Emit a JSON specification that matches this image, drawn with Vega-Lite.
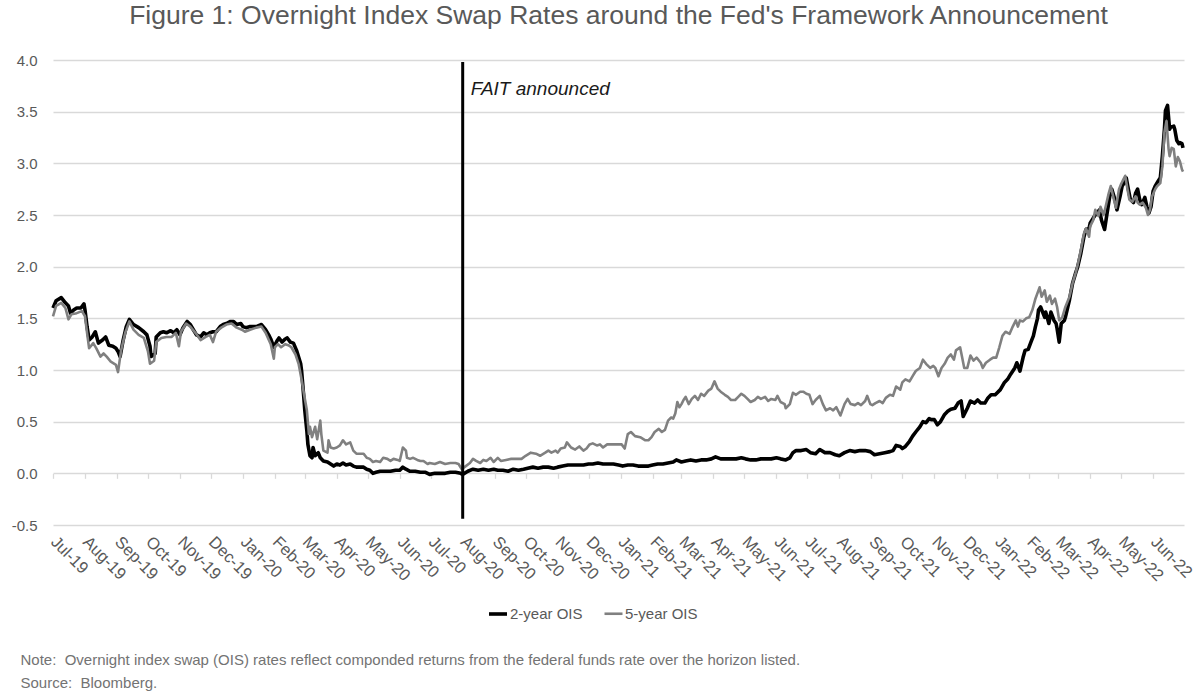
{
  "$schema": "https://vega.github.io/schema/vega-lite/v6.json",
  "width": 1131,
  "height": 465,
  "autosize": {"type": "none"},
  "padding": {"left": 53, "top": 60, "right": 12, "bottom": 166},
  "background": "white",
  "config": {
    "font": "Liberation Sans",
    "view": {"stroke": null},
    "legend": {
      "orient": "none",
      "legendX": 434,
      "legendY": 543,
      "direction": "horizontal",
      "title": null,
      "symbolType": "stroke",
      "symbolSize": 324,
      "labelFontSize": 15,
      "labelColor": "#595959",
      "labelFont": "Liberation Sans",
      "labelOffset": 1,
      "columnPadding": 16
    }
  },
  "title": {
    "text": "Figure 1: Overnight Index Swap Rates around the Fed's Framework Announcement",
    "fontSize": 26.5,
    "fontWeight": "normal",
    "color": "#595959",
    "anchor": "middle",
    "frame": "group",
    "baseline": "alphabetic",
    "offset": 3
  },
  "datasets": {
    "ois": [
      {"date": "2019-07-01", "series": "2-year OIS", "rate": 1.60},
      {"date": "2019-07-04", "series": "2-year OIS", "rate": 1.67},
      {"date": "2019-07-09", "series": "2-year OIS", "rate": 1.70},
      {"date": "2019-07-13", "series": "2-year OIS", "rate": 1.65},
      {"date": "2019-07-16", "series": "2-year OIS", "rate": 1.62},
      {"date": "2019-07-18", "series": "2-year OIS", "rate": 1.55},
      {"date": "2019-07-21", "series": "2-year OIS", "rate": 1.58},
      {"date": "2019-07-24", "series": "2-year OIS", "rate": 1.60},
      {"date": "2019-07-28", "series": "2-year OIS", "rate": 1.60},
      {"date": "2019-07-31", "series": "2-year OIS", "rate": 1.64},
      {"date": "2019-08-01", "series": "2-year OIS", "rate": 1.58},
      {"date": "2019-08-03", "series": "2-year OIS", "rate": 1.42},
      {"date": "2019-08-05", "series": "2-year OIS", "rate": 1.29},
      {"date": "2019-08-08", "series": "2-year OIS", "rate": 1.32},
      {"date": "2019-08-11", "series": "2-year OIS", "rate": 1.37},
      {"date": "2019-08-14", "series": "2-year OIS", "rate": 1.26},
      {"date": "2019-08-18", "series": "2-year OIS", "rate": 1.29},
      {"date": "2019-08-21", "series": "2-year OIS", "rate": 1.32},
      {"date": "2019-08-24", "series": "2-year OIS", "rate": 1.24},
      {"date": "2019-08-28", "series": "2-year OIS", "rate": 1.23},
      {"date": "2019-08-31", "series": "2-year OIS", "rate": 1.21},
      {"date": "2019-09-02", "series": "2-year OIS", "rate": 1.18},
      {"date": "2019-09-04", "series": "2-year OIS", "rate": 1.13},
      {"date": "2019-09-07", "series": "2-year OIS", "rate": 1.29},
      {"date": "2019-09-10", "series": "2-year OIS", "rate": 1.42},
      {"date": "2019-09-13", "series": "2-year OIS", "rate": 1.49},
      {"date": "2019-09-17", "series": "2-year OIS", "rate": 1.44},
      {"date": "2019-09-22", "series": "2-year OIS", "rate": 1.41},
      {"date": "2019-09-27", "series": "2-year OIS", "rate": 1.37},
      {"date": "2019-09-30", "series": "2-year OIS", "rate": 1.34},
      {"date": "2019-10-03", "series": "2-year OIS", "rate": 1.23},
      {"date": "2019-10-04", "series": "2-year OIS", "rate": 1.13},
      {"date": "2019-10-08", "series": "2-year OIS", "rate": 1.16},
      {"date": "2019-10-09", "series": "2-year OIS", "rate": 1.32},
      {"date": "2019-10-13", "series": "2-year OIS", "rate": 1.36},
      {"date": "2019-10-16", "series": "2-year OIS", "rate": 1.37},
      {"date": "2019-10-19", "series": "2-year OIS", "rate": 1.36},
      {"date": "2019-10-23", "series": "2-year OIS", "rate": 1.38},
      {"date": "2019-10-26", "series": "2-year OIS", "rate": 1.36},
      {"date": "2019-10-29", "series": "2-year OIS", "rate": 1.39},
      {"date": "2019-11-01", "series": "2-year OIS", "rate": 1.34},
      {"date": "2019-11-04", "series": "2-year OIS", "rate": 1.41},
      {"date": "2019-11-08", "series": "2-year OIS", "rate": 1.47},
      {"date": "2019-11-11", "series": "2-year OIS", "rate": 1.44},
      {"date": "2019-11-14", "series": "2-year OIS", "rate": 1.39},
      {"date": "2019-11-17", "series": "2-year OIS", "rate": 1.34},
      {"date": "2019-11-21", "series": "2-year OIS", "rate": 1.32},
      {"date": "2019-11-24", "series": "2-year OIS", "rate": 1.36},
      {"date": "2019-11-27", "series": "2-year OIS", "rate": 1.34},
      {"date": "2019-11-30", "series": "2-year OIS", "rate": 1.36},
      {"date": "2019-12-03", "series": "2-year OIS", "rate": 1.37},
      {"date": "2019-12-06", "series": "2-year OIS", "rate": 1.37},
      {"date": "2019-12-10", "series": "2-year OIS", "rate": 1.42},
      {"date": "2019-12-13", "series": "2-year OIS", "rate": 1.44},
      {"date": "2019-12-16", "series": "2-year OIS", "rate": 1.45},
      {"date": "2019-12-20", "series": "2-year OIS", "rate": 1.47},
      {"date": "2019-12-23", "series": "2-year OIS", "rate": 1.47},
      {"date": "2019-12-26", "series": "2-year OIS", "rate": 1.44},
      {"date": "2019-12-30", "series": "2-year OIS", "rate": 1.45},
      {"date": "2020-01-01", "series": "2-year OIS", "rate": 1.42},
      {"date": "2020-01-04", "series": "2-year OIS", "rate": 1.41},
      {"date": "2020-01-08", "series": "2-year OIS", "rate": 1.42},
      {"date": "2020-01-11", "series": "2-year OIS", "rate": 1.42},
      {"date": "2020-01-14", "series": "2-year OIS", "rate": 1.42},
      {"date": "2020-01-19", "series": "2-year OIS", "rate": 1.44},
      {"date": "2020-01-23", "series": "2-year OIS", "rate": 1.39},
      {"date": "2020-01-26", "series": "2-year OIS", "rate": 1.34},
      {"date": "2020-01-28", "series": "2-year OIS", "rate": 1.30},
      {"date": "2020-01-31", "series": "2-year OIS", "rate": 1.22},
      {"date": "2020-02-03", "series": "2-year OIS", "rate": 1.28},
      {"date": "2020-02-05", "series": "2-year OIS", "rate": 1.31},
      {"date": "2020-02-08", "series": "2-year OIS", "rate": 1.27},
      {"date": "2020-02-11", "series": "2-year OIS", "rate": 1.30},
      {"date": "2020-02-13", "series": "2-year OIS", "rate": 1.31},
      {"date": "2020-02-16", "series": "2-year OIS", "rate": 1.27},
      {"date": "2020-02-19", "series": "2-year OIS", "rate": 1.26},
      {"date": "2020-02-22", "series": "2-year OIS", "rate": 1.19},
      {"date": "2020-02-26", "series": "2-year OIS", "rate": 1.06},
      {"date": "2020-02-27", "series": "2-year OIS", "rate": 0.98},
      {"date": "2020-02-29", "series": "2-year OIS", "rate": 0.74},
      {"date": "2020-03-01", "series": "2-year OIS", "rate": 0.61},
      {"date": "2020-03-03", "series": "2-year OIS", "rate": 0.41},
      {"date": "2020-03-04", "series": "2-year OIS", "rate": 0.28},
      {"date": "2020-03-06", "series": "2-year OIS", "rate": 0.17},
      {"date": "2020-03-08", "series": "2-year OIS", "rate": 0.15},
      {"date": "2020-03-09", "series": "2-year OIS", "rate": 0.25},
      {"date": "2020-03-11", "series": "2-year OIS", "rate": 0.17},
      {"date": "2020-03-14", "series": "2-year OIS", "rate": 0.20},
      {"date": "2020-03-16", "series": "2-year OIS", "rate": 0.15},
      {"date": "2020-03-19", "series": "2-year OIS", "rate": 0.12},
      {"date": "2020-03-23", "series": "2-year OIS", "rate": 0.11},
      {"date": "2020-03-26", "series": "2-year OIS", "rate": 0.09},
      {"date": "2020-03-29", "series": "2-year OIS", "rate": 0.07},
      {"date": "2020-04-01", "series": "2-year OIS", "rate": 0.09},
      {"date": "2020-04-04", "series": "2-year OIS", "rate": 0.08},
      {"date": "2020-04-07", "series": "2-year OIS", "rate": 0.10},
      {"date": "2020-04-10", "series": "2-year OIS", "rate": 0.08},
      {"date": "2020-04-14", "series": "2-year OIS", "rate": 0.09},
      {"date": "2020-04-17", "series": "2-year OIS", "rate": 0.07},
      {"date": "2020-04-20", "series": "2-year OIS", "rate": 0.06},
      {"date": "2020-04-24", "series": "2-year OIS", "rate": 0.06},
      {"date": "2020-04-27", "series": "2-year OIS", "rate": 0.06},
      {"date": "2020-04-30", "series": "2-year OIS", "rate": 0.04},
      {"date": "2020-05-03", "series": "2-year OIS", "rate": 0.03},
      {"date": "2020-05-06", "series": "2-year OIS", "rate": 0.00},
      {"date": "2020-05-09", "series": "2-year OIS", "rate": 0.01},
      {"date": "2020-05-13", "series": "2-year OIS", "rate": 0.02},
      {"date": "2020-05-18", "series": "2-year OIS", "rate": 0.02},
      {"date": "2020-05-23", "series": "2-year OIS", "rate": 0.02},
      {"date": "2020-05-28", "series": "2-year OIS", "rate": 0.03},
      {"date": "2020-06-01", "series": "2-year OIS", "rate": 0.03},
      {"date": "2020-06-04", "series": "2-year OIS", "rate": 0.06},
      {"date": "2020-06-07", "series": "2-year OIS", "rate": 0.04},
      {"date": "2020-06-11", "series": "2-year OIS", "rate": 0.02},
      {"date": "2020-06-16", "series": "2-year OIS", "rate": 0.02},
      {"date": "2020-06-21", "series": "2-year OIS", "rate": 0.01},
      {"date": "2020-06-26", "series": "2-year OIS", "rate": 0.01},
      {"date": "2020-06-30", "series": "2-year OIS", "rate": -0.01},
      {"date": "2020-07-05", "series": "2-year OIS", "rate": 0.00},
      {"date": "2020-07-10", "series": "2-year OIS", "rate": 0.00},
      {"date": "2020-07-15", "series": "2-year OIS", "rate": 0.00},
      {"date": "2020-07-20", "series": "2-year OIS", "rate": 0.01},
      {"date": "2020-07-25", "series": "2-year OIS", "rate": 0.01},
      {"date": "2020-07-30", "series": "2-year OIS", "rate": 0.00},
      {"date": "2020-08-01", "series": "2-year OIS", "rate": -0.01},
      {"date": "2020-08-06", "series": "2-year OIS", "rate": 0.02},
      {"date": "2020-08-11", "series": "2-year OIS", "rate": 0.04},
      {"date": "2020-08-16", "series": "2-year OIS", "rate": 0.03},
      {"date": "2020-08-21", "series": "2-year OIS", "rate": 0.04},
      {"date": "2020-08-26", "series": "2-year OIS", "rate": 0.03},
      {"date": "2020-08-31", "series": "2-year OIS", "rate": 0.04},
      {"date": "2020-09-04", "series": "2-year OIS", "rate": 0.03},
      {"date": "2020-09-09", "series": "2-year OIS", "rate": 0.03},
      {"date": "2020-09-14", "series": "2-year OIS", "rate": 0.02},
      {"date": "2020-09-19", "series": "2-year OIS", "rate": 0.04},
      {"date": "2020-09-24", "series": "2-year OIS", "rate": 0.03},
      {"date": "2020-09-29", "series": "2-year OIS", "rate": 0.04},
      {"date": "2020-10-03", "series": "2-year OIS", "rate": 0.05},
      {"date": "2020-10-08", "series": "2-year OIS", "rate": 0.06},
      {"date": "2020-10-13", "series": "2-year OIS", "rate": 0.05},
      {"date": "2020-10-18", "series": "2-year OIS", "rate": 0.06},
      {"date": "2020-10-23", "series": "2-year OIS", "rate": 0.06},
      {"date": "2020-10-28", "series": "2-year OIS", "rate": 0.05},
      {"date": "2020-11-01", "series": "2-year OIS", "rate": 0.06},
      {"date": "2020-11-06", "series": "2-year OIS", "rate": 0.07},
      {"date": "2020-11-11", "series": "2-year OIS", "rate": 0.08},
      {"date": "2020-11-16", "series": "2-year OIS", "rate": 0.08},
      {"date": "2020-11-21", "series": "2-year OIS", "rate": 0.08},
      {"date": "2020-11-26", "series": "2-year OIS", "rate": 0.08},
      {"date": "2020-12-01", "series": "2-year OIS", "rate": 0.09},
      {"date": "2020-12-05", "series": "2-year OIS", "rate": 0.09},
      {"date": "2020-12-10", "series": "2-year OIS", "rate": 0.10},
      {"date": "2020-12-15", "series": "2-year OIS", "rate": 0.09},
      {"date": "2020-12-20", "series": "2-year OIS", "rate": 0.09},
      {"date": "2020-12-25", "series": "2-year OIS", "rate": 0.09},
      {"date": "2020-12-30", "series": "2-year OIS", "rate": 0.08},
      {"date": "2021-01-03", "series": "2-year OIS", "rate": 0.07},
      {"date": "2021-01-08", "series": "2-year OIS", "rate": 0.08},
      {"date": "2021-01-13", "series": "2-year OIS", "rate": 0.08},
      {"date": "2021-01-18", "series": "2-year OIS", "rate": 0.07},
      {"date": "2021-01-23", "series": "2-year OIS", "rate": 0.07},
      {"date": "2021-01-28", "series": "2-year OIS", "rate": 0.07},
      {"date": "2021-02-01", "series": "2-year OIS", "rate": 0.08},
      {"date": "2021-02-06", "series": "2-year OIS", "rate": 0.09},
      {"date": "2021-02-11", "series": "2-year OIS", "rate": 0.09},
      {"date": "2021-02-16", "series": "2-year OIS", "rate": 0.10},
      {"date": "2021-02-21", "series": "2-year OIS", "rate": 0.11},
      {"date": "2021-02-24", "series": "2-year OIS", "rate": 0.13},
      {"date": "2021-03-01", "series": "2-year OIS", "rate": 0.11},
      {"date": "2021-03-05", "series": "2-year OIS", "rate": 0.12},
      {"date": "2021-03-10", "series": "2-year OIS", "rate": 0.13},
      {"date": "2021-03-15", "series": "2-year OIS", "rate": 0.12},
      {"date": "2021-03-20", "series": "2-year OIS", "rate": 0.13},
      {"date": "2021-03-25", "series": "2-year OIS", "rate": 0.13},
      {"date": "2021-03-30", "series": "2-year OIS", "rate": 0.14},
      {"date": "2021-04-03", "series": "2-year OIS", "rate": 0.16},
      {"date": "2021-04-08", "series": "2-year OIS", "rate": 0.14},
      {"date": "2021-04-13", "series": "2-year OIS", "rate": 0.14},
      {"date": "2021-04-18", "series": "2-year OIS", "rate": 0.14},
      {"date": "2021-04-23", "series": "2-year OIS", "rate": 0.14},
      {"date": "2021-04-28", "series": "2-year OIS", "rate": 0.15},
      {"date": "2021-05-02", "series": "2-year OIS", "rate": 0.14},
      {"date": "2021-05-07", "series": "2-year OIS", "rate": 0.13},
      {"date": "2021-05-12", "series": "2-year OIS", "rate": 0.13},
      {"date": "2021-05-17", "series": "2-year OIS", "rate": 0.14},
      {"date": "2021-05-22", "series": "2-year OIS", "rate": 0.14},
      {"date": "2021-05-27", "series": "2-year OIS", "rate": 0.14},
      {"date": "2021-06-01", "series": "2-year OIS", "rate": 0.15},
      {"date": "2021-06-05", "series": "2-year OIS", "rate": 0.14},
      {"date": "2021-06-10", "series": "2-year OIS", "rate": 0.13},
      {"date": "2021-06-14", "series": "2-year OIS", "rate": 0.15},
      {"date": "2021-06-17", "series": "2-year OIS", "rate": 0.20},
      {"date": "2021-06-20", "series": "2-year OIS", "rate": 0.22},
      {"date": "2021-06-25", "series": "2-year OIS", "rate": 0.22},
      {"date": "2021-06-30", "series": "2-year OIS", "rate": 0.23},
      {"date": "2021-07-04", "series": "2-year OIS", "rate": 0.20},
      {"date": "2021-07-09", "series": "2-year OIS", "rate": 0.19},
      {"date": "2021-07-13", "series": "2-year OIS", "rate": 0.23},
      {"date": "2021-07-18", "series": "2-year OIS", "rate": 0.20},
      {"date": "2021-07-23", "series": "2-year OIS", "rate": 0.20},
      {"date": "2021-07-28", "series": "2-year OIS", "rate": 0.18},
      {"date": "2021-08-01", "series": "2-year OIS", "rate": 0.17},
      {"date": "2021-08-06", "series": "2-year OIS", "rate": 0.20},
      {"date": "2021-08-11", "series": "2-year OIS", "rate": 0.22},
      {"date": "2021-08-16", "series": "2-year OIS", "rate": 0.21},
      {"date": "2021-08-21", "series": "2-year OIS", "rate": 0.22},
      {"date": "2021-08-26", "series": "2-year OIS", "rate": 0.22},
      {"date": "2021-08-31", "series": "2-year OIS", "rate": 0.21},
      {"date": "2021-09-04", "series": "2-year OIS", "rate": 0.18},
      {"date": "2021-09-09", "series": "2-year OIS", "rate": 0.19},
      {"date": "2021-09-14", "series": "2-year OIS", "rate": 0.20},
      {"date": "2021-09-19", "series": "2-year OIS", "rate": 0.21},
      {"date": "2021-09-22", "series": "2-year OIS", "rate": 0.22},
      {"date": "2021-09-25", "series": "2-year OIS", "rate": 0.27},
      {"date": "2021-09-29", "series": "2-year OIS", "rate": 0.26},
      {"date": "2021-10-01", "series": "2-year OIS", "rate": 0.24},
      {"date": "2021-10-04", "series": "2-year OIS", "rate": 0.26},
      {"date": "2021-10-08", "series": "2-year OIS", "rate": 0.31},
      {"date": "2021-10-11", "series": "2-year OIS", "rate": 0.36},
      {"date": "2021-10-14", "series": "2-year OIS", "rate": 0.40},
      {"date": "2021-10-18", "series": "2-year OIS", "rate": 0.45},
      {"date": "2021-10-21", "series": "2-year OIS", "rate": 0.50},
      {"date": "2021-10-24", "series": "2-year OIS", "rate": 0.49},
      {"date": "2021-10-27", "series": "2-year OIS", "rate": 0.53},
      {"date": "2021-10-29", "series": "2-year OIS", "rate": 0.52},
      {"date": "2021-11-01", "series": "2-year OIS", "rate": 0.52},
      {"date": "2021-11-04", "series": "2-year OIS", "rate": 0.47},
      {"date": "2021-11-07", "series": "2-year OIS", "rate": 0.50},
      {"date": "2021-11-11", "series": "2-year OIS", "rate": 0.57},
      {"date": "2021-11-14", "series": "2-year OIS", "rate": 0.60},
      {"date": "2021-11-17", "series": "2-year OIS", "rate": 0.62},
      {"date": "2021-11-21", "series": "2-year OIS", "rate": 0.63},
      {"date": "2021-11-24", "series": "2-year OIS", "rate": 0.68},
      {"date": "2021-11-27", "series": "2-year OIS", "rate": 0.70},
      {"date": "2021-11-29", "series": "2-year OIS", "rate": 0.55},
      {"date": "2021-12-03", "series": "2-year OIS", "rate": 0.63},
      {"date": "2021-12-06", "series": "2-year OIS", "rate": 0.70},
      {"date": "2021-12-10", "series": "2-year OIS", "rate": 0.68},
      {"date": "2021-12-13", "series": "2-year OIS", "rate": 0.71},
      {"date": "2021-12-16", "series": "2-year OIS", "rate": 0.68},
      {"date": "2021-12-20", "series": "2-year OIS", "rate": 0.68},
      {"date": "2021-12-23", "series": "2-year OIS", "rate": 0.73},
      {"date": "2021-12-26", "series": "2-year OIS", "rate": 0.76},
      {"date": "2021-12-30", "series": "2-year OIS", "rate": 0.76},
      {"date": "2022-01-01", "series": "2-year OIS", "rate": 0.78},
      {"date": "2022-01-04", "series": "2-year OIS", "rate": 0.81},
      {"date": "2022-01-08", "series": "2-year OIS", "rate": 0.88},
      {"date": "2022-01-11", "series": "2-year OIS", "rate": 0.91},
      {"date": "2022-01-14", "series": "2-year OIS", "rate": 0.96},
      {"date": "2022-01-18", "series": "2-year OIS", "rate": 1.02},
      {"date": "2022-01-20", "series": "2-year OIS", "rate": 1.07},
      {"date": "2022-01-23", "series": "2-year OIS", "rate": 0.99},
      {"date": "2022-01-26", "series": "2-year OIS", "rate": 1.12},
      {"date": "2022-01-28", "series": "2-year OIS", "rate": 1.19},
      {"date": "2022-01-31", "series": "2-year OIS", "rate": 1.20},
      {"date": "2022-02-03", "series": "2-year OIS", "rate": 1.28},
      {"date": "2022-02-05", "series": "2-year OIS", "rate": 1.33},
      {"date": "2022-02-07", "series": "2-year OIS", "rate": 1.42},
      {"date": "2022-02-09", "series": "2-year OIS", "rate": 1.50},
      {"date": "2022-02-10", "series": "2-year OIS", "rate": 1.58},
      {"date": "2022-02-12", "series": "2-year OIS", "rate": 1.61},
      {"date": "2022-02-16", "series": "2-year OIS", "rate": 1.51},
      {"date": "2022-02-17", "series": "2-year OIS", "rate": 1.56},
      {"date": "2022-02-20", "series": "2-year OIS", "rate": 1.45},
      {"date": "2022-02-22", "series": "2-year OIS", "rate": 1.56},
      {"date": "2022-02-25", "series": "2-year OIS", "rate": 1.48},
      {"date": "2022-02-27", "series": "2-year OIS", "rate": 1.45},
      {"date": "2022-02-28", "series": "2-year OIS", "rate": 1.40},
      {"date": "2022-03-02", "series": "2-year OIS", "rate": 1.27},
      {"date": "2022-03-04", "series": "2-year OIS", "rate": 1.45},
      {"date": "2022-03-07", "series": "2-year OIS", "rate": 1.48},
      {"date": "2022-03-08", "series": "2-year OIS", "rate": 1.51},
      {"date": "2022-03-12", "series": "2-year OIS", "rate": 1.68},
      {"date": "2022-03-15", "series": "2-year OIS", "rate": 1.84},
      {"date": "2022-03-18", "series": "2-year OIS", "rate": 1.94},
      {"date": "2022-03-20", "series": "2-year OIS", "rate": 2.00},
      {"date": "2022-03-23", "series": "2-year OIS", "rate": 2.13},
      {"date": "2022-03-26", "series": "2-year OIS", "rate": 2.29},
      {"date": "2022-03-28", "series": "2-year OIS", "rate": 2.36},
      {"date": "2022-03-31", "series": "2-year OIS", "rate": 2.37},
      {"date": "2022-04-01", "series": "2-year OIS", "rate": 2.42},
      {"date": "2022-04-04", "series": "2-year OIS", "rate": 2.47},
      {"date": "2022-04-06", "series": "2-year OIS", "rate": 2.50},
      {"date": "2022-04-10", "series": "2-year OIS", "rate": 2.55},
      {"date": "2022-04-12", "series": "2-year OIS", "rate": 2.45},
      {"date": "2022-04-15", "series": "2-year OIS", "rate": 2.36},
      {"date": "2022-04-17", "series": "2-year OIS", "rate": 2.49},
      {"date": "2022-04-20", "series": "2-year OIS", "rate": 2.68},
      {"date": "2022-04-22", "series": "2-year OIS", "rate": 2.75},
      {"date": "2022-04-25", "series": "2-year OIS", "rate": 2.65},
      {"date": "2022-04-27", "series": "2-year OIS", "rate": 2.55},
      {"date": "2022-04-30", "series": "2-year OIS", "rate": 2.68},
      {"date": "2022-05-02", "series": "2-year OIS", "rate": 2.78},
      {"date": "2022-05-04", "series": "2-year OIS", "rate": 2.81},
      {"date": "2022-05-06", "series": "2-year OIS", "rate": 2.86},
      {"date": "2022-05-08", "series": "2-year OIS", "rate": 2.75},
      {"date": "2022-05-10", "series": "2-year OIS", "rate": 2.65},
      {"date": "2022-05-13", "series": "2-year OIS", "rate": 2.62},
      {"date": "2022-05-15", "series": "2-year OIS", "rate": 2.71},
      {"date": "2022-05-17", "series": "2-year OIS", "rate": 2.75},
      {"date": "2022-05-19", "series": "2-year OIS", "rate": 2.65},
      {"date": "2022-05-21", "series": "2-year OIS", "rate": 2.60},
      {"date": "2022-05-24", "series": "2-year OIS", "rate": 2.67},
      {"date": "2022-05-26", "series": "2-year OIS", "rate": 2.58},
      {"date": "2022-05-28", "series": "2-year OIS", "rate": 2.52},
      {"date": "2022-05-30", "series": "2-year OIS", "rate": 2.58},
      {"date": "2022-06-01", "series": "2-year OIS", "rate": 2.73},
      {"date": "2022-06-03", "series": "2-year OIS", "rate": 2.78},
      {"date": "2022-06-06", "series": "2-year OIS", "rate": 2.83},
      {"date": "2022-06-08", "series": "2-year OIS", "rate": 2.86},
      {"date": "2022-06-10", "series": "2-year OIS", "rate": 3.07},
      {"date": "2022-06-12", "series": "2-year OIS", "rate": 3.33},
      {"date": "2022-06-13", "series": "2-year OIS", "rate": 3.51},
      {"date": "2022-06-15", "series": "2-year OIS", "rate": 3.56},
      {"date": "2022-06-17", "series": "2-year OIS", "rate": 3.33},
      {"date": "2022-06-18", "series": "2-year OIS", "rate": 3.35},
      {"date": "2022-06-21", "series": "2-year OIS", "rate": 3.36},
      {"date": "2022-06-22", "series": "2-year OIS", "rate": 3.33},
      {"date": "2022-06-24", "series": "2-year OIS", "rate": 3.22},
      {"date": "2022-06-26", "series": "2-year OIS", "rate": 3.19},
      {"date": "2022-06-27", "series": "2-year OIS", "rate": 3.20},
      {"date": "2022-06-29", "series": "2-year OIS", "rate": 3.19},
      {"date": "2022-06-30", "series": "2-year OIS", "rate": 3.15},
      {"date": "2019-07-01", "series": "5-year OIS", "rate": 1.52},
      {"date": "2019-07-04", "series": "5-year OIS", "rate": 1.62},
      {"date": "2019-07-09", "series": "5-year OIS", "rate": 1.65},
      {"date": "2019-07-13", "series": "5-year OIS", "rate": 1.60},
      {"date": "2019-07-16", "series": "5-year OIS", "rate": 1.49},
      {"date": "2019-07-19", "series": "5-year OIS", "rate": 1.54},
      {"date": "2019-07-24", "series": "5-year OIS", "rate": 1.55},
      {"date": "2019-07-29", "series": "5-year OIS", "rate": 1.57},
      {"date": "2019-08-01", "series": "5-year OIS", "rate": 1.52},
      {"date": "2019-08-03", "series": "5-year OIS", "rate": 1.36},
      {"date": "2019-08-05", "series": "5-year OIS", "rate": 1.21},
      {"date": "2019-08-09", "series": "5-year OIS", "rate": 1.26},
      {"date": "2019-08-12", "series": "5-year OIS", "rate": 1.21},
      {"date": "2019-08-16", "series": "5-year OIS", "rate": 1.13},
      {"date": "2019-08-19", "series": "5-year OIS", "rate": 1.16},
      {"date": "2019-08-22", "series": "5-year OIS", "rate": 1.13},
      {"date": "2019-08-26", "series": "5-year OIS", "rate": 1.08},
      {"date": "2019-08-31", "series": "5-year OIS", "rate": 1.05},
      {"date": "2019-09-02", "series": "5-year OIS", "rate": 0.98},
      {"date": "2019-09-05", "series": "5-year OIS", "rate": 1.19},
      {"date": "2019-09-09", "series": "5-year OIS", "rate": 1.36},
      {"date": "2019-09-13", "series": "5-year OIS", "rate": 1.47},
      {"date": "2019-09-17", "series": "5-year OIS", "rate": 1.39},
      {"date": "2019-09-22", "series": "5-year OIS", "rate": 1.34},
      {"date": "2019-09-27", "series": "5-year OIS", "rate": 1.31},
      {"date": "2019-10-01", "series": "5-year OIS", "rate": 1.18},
      {"date": "2019-10-03", "series": "5-year OIS", "rate": 1.06},
      {"date": "2019-10-07", "series": "5-year OIS", "rate": 1.09},
      {"date": "2019-10-09", "series": "5-year OIS", "rate": 1.27},
      {"date": "2019-10-14", "series": "5-year OIS", "rate": 1.31},
      {"date": "2019-10-19", "series": "5-year OIS", "rate": 1.32},
      {"date": "2019-10-24", "series": "5-year OIS", "rate": 1.32},
      {"date": "2019-10-28", "series": "5-year OIS", "rate": 1.36},
      {"date": "2019-10-31", "series": "5-year OIS", "rate": 1.23},
      {"date": "2019-11-02", "series": "5-year OIS", "rate": 1.37},
      {"date": "2019-11-07", "series": "5-year OIS", "rate": 1.45},
      {"date": "2019-11-11", "series": "5-year OIS", "rate": 1.42},
      {"date": "2019-11-16", "series": "5-year OIS", "rate": 1.36},
      {"date": "2019-11-21", "series": "5-year OIS", "rate": 1.29},
      {"date": "2019-11-26", "series": "5-year OIS", "rate": 1.32},
      {"date": "2019-11-30", "series": "5-year OIS", "rate": 1.34},
      {"date": "2019-12-03", "series": "5-year OIS", "rate": 1.27},
      {"date": "2019-12-06", "series": "5-year OIS", "rate": 1.37},
      {"date": "2019-12-11", "series": "5-year OIS", "rate": 1.41},
      {"date": "2019-12-16", "series": "5-year OIS", "rate": 1.44},
      {"date": "2019-12-21", "series": "5-year OIS", "rate": 1.45},
      {"date": "2019-12-26", "series": "5-year OIS", "rate": 1.41},
      {"date": "2019-12-31", "series": "5-year OIS", "rate": 1.39},
      {"date": "2020-01-03", "series": "5-year OIS", "rate": 1.37},
      {"date": "2020-01-08", "series": "5-year OIS", "rate": 1.39},
      {"date": "2020-01-14", "series": "5-year OIS", "rate": 1.41},
      {"date": "2020-01-19", "series": "5-year OIS", "rate": 1.42},
      {"date": "2020-01-23", "series": "5-year OIS", "rate": 1.36},
      {"date": "2020-01-28", "series": "5-year OIS", "rate": 1.25},
      {"date": "2020-01-31", "series": "5-year OIS", "rate": 1.11},
      {"date": "2020-02-01", "series": "5-year OIS", "rate": 1.22},
      {"date": "2020-02-04", "series": "5-year OIS", "rate": 1.25},
      {"date": "2020-02-07", "series": "5-year OIS", "rate": 1.22},
      {"date": "2020-02-11", "series": "5-year OIS", "rate": 1.25},
      {"date": "2020-02-14", "series": "5-year OIS", "rate": 1.24},
      {"date": "2020-02-17", "series": "5-year OIS", "rate": 1.22},
      {"date": "2020-02-21", "series": "5-year OIS", "rate": 1.15},
      {"date": "2020-02-24", "series": "5-year OIS", "rate": 1.06},
      {"date": "2020-02-27", "series": "5-year OIS", "rate": 0.90},
      {"date": "2020-02-29", "series": "5-year OIS", "rate": 0.78},
      {"date": "2020-03-03", "series": "5-year OIS", "rate": 0.61},
      {"date": "2020-03-05", "series": "5-year OIS", "rate": 0.38},
      {"date": "2020-03-06", "series": "5-year OIS", "rate": 0.45},
      {"date": "2020-03-08", "series": "5-year OIS", "rate": 0.35},
      {"date": "2020-03-11", "series": "5-year OIS", "rate": 0.45},
      {"date": "2020-03-13", "series": "5-year OIS", "rate": 0.33},
      {"date": "2020-03-16", "series": "5-year OIS", "rate": 0.51},
      {"date": "2020-03-17", "series": "5-year OIS", "rate": 0.38},
      {"date": "2020-03-19", "series": "5-year OIS", "rate": 0.22},
      {"date": "2020-03-23", "series": "5-year OIS", "rate": 0.20},
      {"date": "2020-03-24", "series": "5-year OIS", "rate": 0.32},
      {"date": "2020-03-26", "series": "5-year OIS", "rate": 0.25},
      {"date": "2020-03-29", "series": "5-year OIS", "rate": 0.24},
      {"date": "2020-04-01", "series": "5-year OIS", "rate": 0.25},
      {"date": "2020-04-04", "series": "5-year OIS", "rate": 0.27},
      {"date": "2020-04-07", "series": "5-year OIS", "rate": 0.32},
      {"date": "2020-04-10", "series": "5-year OIS", "rate": 0.28},
      {"date": "2020-04-14", "series": "5-year OIS", "rate": 0.30},
      {"date": "2020-04-17", "series": "5-year OIS", "rate": 0.22},
      {"date": "2020-04-20", "series": "5-year OIS", "rate": 0.19},
      {"date": "2020-04-24", "series": "5-year OIS", "rate": 0.19},
      {"date": "2020-04-27", "series": "5-year OIS", "rate": 0.19},
      {"date": "2020-04-30", "series": "5-year OIS", "rate": 0.15},
      {"date": "2020-05-03", "series": "5-year OIS", "rate": 0.14},
      {"date": "2020-05-06", "series": "5-year OIS", "rate": 0.11},
      {"date": "2020-05-09", "series": "5-year OIS", "rate": 0.12},
      {"date": "2020-05-13", "series": "5-year OIS", "rate": 0.11},
      {"date": "2020-05-16", "series": "5-year OIS", "rate": 0.15},
      {"date": "2020-05-20", "series": "5-year OIS", "rate": 0.14},
      {"date": "2020-05-23", "series": "5-year OIS", "rate": 0.12},
      {"date": "2020-05-26", "series": "5-year OIS", "rate": 0.14},
      {"date": "2020-05-30", "series": "5-year OIS", "rate": 0.13},
      {"date": "2020-06-01", "series": "5-year OIS", "rate": 0.12},
      {"date": "2020-06-04", "series": "5-year OIS", "rate": 0.25},
      {"date": "2020-06-07", "series": "5-year OIS", "rate": 0.22},
      {"date": "2020-06-08", "series": "5-year OIS", "rate": 0.15},
      {"date": "2020-06-11", "series": "5-year OIS", "rate": 0.14},
      {"date": "2020-06-14", "series": "5-year OIS", "rate": 0.15},
      {"date": "2020-06-18", "series": "5-year OIS", "rate": 0.13},
      {"date": "2020-06-21", "series": "5-year OIS", "rate": 0.12},
      {"date": "2020-06-24", "series": "5-year OIS", "rate": 0.12},
      {"date": "2020-06-28", "series": "5-year OIS", "rate": 0.09},
      {"date": "2020-06-30", "series": "5-year OIS", "rate": 0.10},
      {"date": "2020-07-05", "series": "5-year OIS", "rate": 0.09},
      {"date": "2020-07-10", "series": "5-year OIS", "rate": 0.11},
      {"date": "2020-07-15", "series": "5-year OIS", "rate": 0.09},
      {"date": "2020-07-20", "series": "5-year OIS", "rate": 0.10},
      {"date": "2020-07-25", "series": "5-year OIS", "rate": 0.10},
      {"date": "2020-07-28", "series": "5-year OIS", "rate": 0.09},
      {"date": "2020-07-31", "series": "5-year OIS", "rate": 0.04},
      {"date": "2020-08-04", "series": "5-year OIS", "rate": 0.07},
      {"date": "2020-08-08", "series": "5-year OIS", "rate": 0.10},
      {"date": "2020-08-11", "series": "5-year OIS", "rate": 0.14},
      {"date": "2020-08-14", "series": "5-year OIS", "rate": 0.12},
      {"date": "2020-08-18", "series": "5-year OIS", "rate": 0.10},
      {"date": "2020-08-21", "series": "5-year OIS", "rate": 0.13},
      {"date": "2020-08-24", "series": "5-year OIS", "rate": 0.12},
      {"date": "2020-08-28", "series": "5-year OIS", "rate": 0.15},
      {"date": "2020-08-31", "series": "5-year OIS", "rate": 0.11},
      {"date": "2020-09-04", "series": "5-year OIS", "rate": 0.15},
      {"date": "2020-09-07", "series": "5-year OIS", "rate": 0.12},
      {"date": "2020-09-12", "series": "5-year OIS", "rate": 0.13},
      {"date": "2020-09-17", "series": "5-year OIS", "rate": 0.14},
      {"date": "2020-09-22", "series": "5-year OIS", "rate": 0.14},
      {"date": "2020-09-27", "series": "5-year OIS", "rate": 0.14},
      {"date": "2020-10-01", "series": "5-year OIS", "rate": 0.17},
      {"date": "2020-10-06", "series": "5-year OIS", "rate": 0.20},
      {"date": "2020-10-11", "series": "5-year OIS", "rate": 0.19},
      {"date": "2020-10-15", "series": "5-year OIS", "rate": 0.17},
      {"date": "2020-10-20", "series": "5-year OIS", "rate": 0.20},
      {"date": "2020-10-23", "series": "5-year OIS", "rate": 0.22},
      {"date": "2020-10-26", "series": "5-year OIS", "rate": 0.20},
      {"date": "2020-10-30", "series": "5-year OIS", "rate": 0.22},
      {"date": "2020-11-01", "series": "5-year OIS", "rate": 0.20},
      {"date": "2020-11-04", "series": "5-year OIS", "rate": 0.24},
      {"date": "2020-11-08", "series": "5-year OIS", "rate": 0.25},
      {"date": "2020-11-10", "series": "5-year OIS", "rate": 0.30},
      {"date": "2020-11-14", "series": "5-year OIS", "rate": 0.25},
      {"date": "2020-11-18", "series": "5-year OIS", "rate": 0.23},
      {"date": "2020-11-22", "series": "5-year OIS", "rate": 0.26},
      {"date": "2020-11-26", "series": "5-year OIS", "rate": 0.22},
      {"date": "2020-11-29", "series": "5-year OIS", "rate": 0.24},
      {"date": "2020-12-02", "series": "5-year OIS", "rate": 0.28},
      {"date": "2020-12-05", "series": "5-year OIS", "rate": 0.29},
      {"date": "2020-12-09", "series": "5-year OIS", "rate": 0.27},
      {"date": "2020-12-12", "series": "5-year OIS", "rate": 0.28},
      {"date": "2020-12-15", "series": "5-year OIS", "rate": 0.25},
      {"date": "2020-12-19", "series": "5-year OIS", "rate": 0.28},
      {"date": "2020-12-24", "series": "5-year OIS", "rate": 0.28},
      {"date": "2020-12-29", "series": "5-year OIS", "rate": 0.28},
      {"date": "2021-01-02", "series": "5-year OIS", "rate": 0.28},
      {"date": "2021-01-05", "series": "5-year OIS", "rate": 0.24},
      {"date": "2021-01-08", "series": "5-year OIS", "rate": 0.38},
      {"date": "2021-01-11", "series": "5-year OIS", "rate": 0.40},
      {"date": "2021-01-15", "series": "5-year OIS", "rate": 0.36},
      {"date": "2021-01-20", "series": "5-year OIS", "rate": 0.35},
      {"date": "2021-01-25", "series": "5-year OIS", "rate": 0.32},
      {"date": "2021-01-28", "series": "5-year OIS", "rate": 0.32},
      {"date": "2021-01-31", "series": "5-year OIS", "rate": 0.35},
      {"date": "2021-02-03", "series": "5-year OIS", "rate": 0.40},
      {"date": "2021-02-07", "series": "5-year OIS", "rate": 0.43},
      {"date": "2021-02-10", "series": "5-year OIS", "rate": 0.40},
      {"date": "2021-02-13", "series": "5-year OIS", "rate": 0.42},
      {"date": "2021-02-16", "series": "5-year OIS", "rate": 0.51},
      {"date": "2021-02-19", "series": "5-year OIS", "rate": 0.54},
      {"date": "2021-02-21", "series": "5-year OIS", "rate": 0.53},
      {"date": "2021-02-23", "series": "5-year OIS", "rate": 0.58},
      {"date": "2021-02-25", "series": "5-year OIS", "rate": 0.69},
      {"date": "2021-02-27", "series": "5-year OIS", "rate": 0.64},
      {"date": "2021-03-01", "series": "5-year OIS", "rate": 0.67},
      {"date": "2021-03-03", "series": "5-year OIS", "rate": 0.71},
      {"date": "2021-03-05", "series": "5-year OIS", "rate": 0.74},
      {"date": "2021-03-08", "series": "5-year OIS", "rate": 0.67},
      {"date": "2021-03-11", "series": "5-year OIS", "rate": 0.72},
      {"date": "2021-03-14", "series": "5-year OIS", "rate": 0.75},
      {"date": "2021-03-17", "series": "5-year OIS", "rate": 0.71},
      {"date": "2021-03-20", "series": "5-year OIS", "rate": 0.77},
      {"date": "2021-03-23", "series": "5-year OIS", "rate": 0.75},
      {"date": "2021-03-27", "series": "5-year OIS", "rate": 0.80},
      {"date": "2021-03-30", "series": "5-year OIS", "rate": 0.82},
      {"date": "2021-04-02", "series": "5-year OIS", "rate": 0.89},
      {"date": "2021-04-05", "series": "5-year OIS", "rate": 0.82},
      {"date": "2021-04-08", "series": "5-year OIS", "rate": 0.79},
      {"date": "2021-04-12", "series": "5-year OIS", "rate": 0.76},
      {"date": "2021-04-15", "series": "5-year OIS", "rate": 0.74},
      {"date": "2021-04-18", "series": "5-year OIS", "rate": 0.71},
      {"date": "2021-04-22", "series": "5-year OIS", "rate": 0.71},
      {"date": "2021-04-25", "series": "5-year OIS", "rate": 0.74},
      {"date": "2021-04-28", "series": "5-year OIS", "rate": 0.77},
      {"date": "2021-05-01", "series": "5-year OIS", "rate": 0.75},
      {"date": "2021-05-04", "series": "5-year OIS", "rate": 0.72},
      {"date": "2021-05-07", "series": "5-year OIS", "rate": 0.69},
      {"date": "2021-05-11", "series": "5-year OIS", "rate": 0.71},
      {"date": "2021-05-14", "series": "5-year OIS", "rate": 0.74},
      {"date": "2021-05-17", "series": "5-year OIS", "rate": 0.72},
      {"date": "2021-05-21", "series": "5-year OIS", "rate": 0.74},
      {"date": "2021-05-24", "series": "5-year OIS", "rate": 0.70},
      {"date": "2021-05-27", "series": "5-year OIS", "rate": 0.72},
      {"date": "2021-05-31", "series": "5-year OIS", "rate": 0.71},
      {"date": "2021-06-02", "series": "5-year OIS", "rate": 0.75},
      {"date": "2021-06-05", "series": "5-year OIS", "rate": 0.69},
      {"date": "2021-06-09", "series": "5-year OIS", "rate": 0.67},
      {"date": "2021-06-10", "series": "5-year OIS", "rate": 0.63},
      {"date": "2021-06-14", "series": "5-year OIS", "rate": 0.67},
      {"date": "2021-06-17", "series": "5-year OIS", "rate": 0.78},
      {"date": "2021-06-20", "series": "5-year OIS", "rate": 0.76},
      {"date": "2021-06-24", "series": "5-year OIS", "rate": 0.79},
      {"date": "2021-06-27", "series": "5-year OIS", "rate": 0.79},
      {"date": "2021-06-30", "series": "5-year OIS", "rate": 0.77},
      {"date": "2021-07-03", "series": "5-year OIS", "rate": 0.76},
      {"date": "2021-07-06", "series": "5-year OIS", "rate": 0.67},
      {"date": "2021-07-09", "series": "5-year OIS", "rate": 0.71},
      {"date": "2021-07-13", "series": "5-year OIS", "rate": 0.75},
      {"date": "2021-07-16", "series": "5-year OIS", "rate": 0.67},
      {"date": "2021-07-19", "series": "5-year OIS", "rate": 0.61},
      {"date": "2021-07-23", "series": "5-year OIS", "rate": 0.63},
      {"date": "2021-07-26", "series": "5-year OIS", "rate": 0.61},
      {"date": "2021-07-29", "series": "5-year OIS", "rate": 0.64},
      {"date": "2021-08-02", "series": "5-year OIS", "rate": 0.56},
      {"date": "2021-08-06", "series": "5-year OIS", "rate": 0.67},
      {"date": "2021-08-09", "series": "5-year OIS", "rate": 0.72},
      {"date": "2021-08-12", "series": "5-year OIS", "rate": 0.67},
      {"date": "2021-08-16", "series": "5-year OIS", "rate": 0.66},
      {"date": "2021-08-19", "series": "5-year OIS", "rate": 0.68},
      {"date": "2021-08-22", "series": "5-year OIS", "rate": 0.66},
      {"date": "2021-08-26", "series": "5-year OIS", "rate": 0.70},
      {"date": "2021-08-28", "series": "5-year OIS", "rate": 0.75},
      {"date": "2021-08-31", "series": "5-year OIS", "rate": 0.67},
      {"date": "2021-09-02", "series": "5-year OIS", "rate": 0.66},
      {"date": "2021-09-05", "series": "5-year OIS", "rate": 0.68},
      {"date": "2021-09-09", "series": "5-year OIS", "rate": 0.70},
      {"date": "2021-09-12", "series": "5-year OIS", "rate": 0.68},
      {"date": "2021-09-15", "series": "5-year OIS", "rate": 0.73},
      {"date": "2021-09-19", "series": "5-year OIS", "rate": 0.76},
      {"date": "2021-09-22", "series": "5-year OIS", "rate": 0.75},
      {"date": "2021-09-25", "series": "5-year OIS", "rate": 0.84},
      {"date": "2021-09-29", "series": "5-year OIS", "rate": 0.81},
      {"date": "2021-10-01", "series": "5-year OIS", "rate": 0.88},
      {"date": "2021-10-04", "series": "5-year OIS", "rate": 0.91},
      {"date": "2021-10-08", "series": "5-year OIS", "rate": 0.89},
      {"date": "2021-10-11", "series": "5-year OIS", "rate": 0.94},
      {"date": "2021-10-14", "series": "5-year OIS", "rate": 0.99},
      {"date": "2021-10-18", "series": "5-year OIS", "rate": 1.02},
      {"date": "2021-10-21", "series": "5-year OIS", "rate": 1.10},
      {"date": "2021-10-24", "series": "5-year OIS", "rate": 1.06},
      {"date": "2021-10-28", "series": "5-year OIS", "rate": 1.02},
      {"date": "2021-10-31", "series": "5-year OIS", "rate": 1.04},
      {"date": "2021-11-02", "series": "5-year OIS", "rate": 1.02},
      {"date": "2021-11-05", "series": "5-year OIS", "rate": 0.94},
      {"date": "2021-11-08", "series": "5-year OIS", "rate": 1.02},
      {"date": "2021-11-11", "series": "5-year OIS", "rate": 1.06},
      {"date": "2021-11-14", "series": "5-year OIS", "rate": 1.12},
      {"date": "2021-11-17", "series": "5-year OIS", "rate": 1.15},
      {"date": "2021-11-20", "series": "5-year OIS", "rate": 1.10},
      {"date": "2021-11-22", "series": "5-year OIS", "rate": 1.19},
      {"date": "2021-11-26", "series": "5-year OIS", "rate": 1.22},
      {"date": "2021-11-28", "series": "5-year OIS", "rate": 1.12},
      {"date": "2021-11-30", "series": "5-year OIS", "rate": 1.02},
      {"date": "2021-12-03", "series": "5-year OIS", "rate": 1.02},
      {"date": "2021-12-06", "series": "5-year OIS", "rate": 1.14},
      {"date": "2021-12-09", "series": "5-year OIS", "rate": 1.09},
      {"date": "2021-12-12", "series": "5-year OIS", "rate": 1.12},
      {"date": "2021-12-16", "series": "5-year OIS", "rate": 1.07},
      {"date": "2021-12-18", "series": "5-year OIS", "rate": 1.02},
      {"date": "2021-12-21", "series": "5-year OIS", "rate": 1.07},
      {"date": "2021-12-25", "series": "5-year OIS", "rate": 1.10},
      {"date": "2021-12-28", "series": "5-year OIS", "rate": 1.12},
      {"date": "2021-12-31", "series": "5-year OIS", "rate": 1.12},
      {"date": "2022-01-03", "series": "5-year OIS", "rate": 1.22},
      {"date": "2022-01-06", "series": "5-year OIS", "rate": 1.33},
      {"date": "2022-01-09", "series": "5-year OIS", "rate": 1.37},
      {"date": "2022-01-13", "series": "5-year OIS", "rate": 1.35},
      {"date": "2022-01-16", "series": "5-year OIS", "rate": 1.42},
      {"date": "2022-01-19", "series": "5-year OIS", "rate": 1.48},
      {"date": "2022-01-21", "series": "5-year OIS", "rate": 1.42},
      {"date": "2022-01-23", "series": "5-year OIS", "rate": 1.48},
      {"date": "2022-01-26", "series": "5-year OIS", "rate": 1.47},
      {"date": "2022-01-29", "series": "5-year OIS", "rate": 1.50},
      {"date": "2022-02-01", "series": "5-year OIS", "rate": 1.51},
      {"date": "2022-02-04", "series": "5-year OIS", "rate": 1.58},
      {"date": "2022-02-07", "series": "5-year OIS", "rate": 1.69},
      {"date": "2022-02-11", "series": "5-year OIS", "rate": 1.80},
      {"date": "2022-02-13", "series": "5-year OIS", "rate": 1.71},
      {"date": "2022-02-16", "series": "5-year OIS", "rate": 1.77},
      {"date": "2022-02-18", "series": "5-year OIS", "rate": 1.66},
      {"date": "2022-02-21", "series": "5-year OIS", "rate": 1.72},
      {"date": "2022-02-23", "series": "5-year OIS", "rate": 1.64},
      {"date": "2022-02-26", "series": "5-year OIS", "rate": 1.69},
      {"date": "2022-02-28", "series": "5-year OIS", "rate": 1.61},
      {"date": "2022-03-02", "series": "5-year OIS", "rate": 1.48},
      {"date": "2022-03-05", "series": "5-year OIS", "rate": 1.51},
      {"date": "2022-03-08", "series": "5-year OIS", "rate": 1.61},
      {"date": "2022-03-12", "series": "5-year OIS", "rate": 1.71},
      {"date": "2022-03-15", "series": "5-year OIS", "rate": 1.84},
      {"date": "2022-03-18", "series": "5-year OIS", "rate": 1.94},
      {"date": "2022-03-20", "series": "5-year OIS", "rate": 2.02},
      {"date": "2022-03-23", "series": "5-year OIS", "rate": 2.16},
      {"date": "2022-03-26", "series": "5-year OIS", "rate": 2.32},
      {"date": "2022-03-28", "series": "5-year OIS", "rate": 2.37},
      {"date": "2022-03-31", "series": "5-year OIS", "rate": 2.29},
      {"date": "2022-04-01", "series": "5-year OIS", "rate": 2.39},
      {"date": "2022-04-04", "series": "5-year OIS", "rate": 2.45},
      {"date": "2022-04-06", "series": "5-year OIS", "rate": 2.55},
      {"date": "2022-04-09", "series": "5-year OIS", "rate": 2.49},
      {"date": "2022-04-11", "series": "5-year OIS", "rate": 2.58},
      {"date": "2022-04-14", "series": "5-year OIS", "rate": 2.50},
      {"date": "2022-04-16", "series": "5-year OIS", "rate": 2.58},
      {"date": "2022-04-19", "series": "5-year OIS", "rate": 2.71},
      {"date": "2022-04-21", "series": "5-year OIS", "rate": 2.78},
      {"date": "2022-04-24", "series": "5-year OIS", "rate": 2.65},
      {"date": "2022-04-26", "series": "5-year OIS", "rate": 2.57},
      {"date": "2022-04-29", "series": "5-year OIS", "rate": 2.75},
      {"date": "2022-05-01", "series": "5-year OIS", "rate": 2.80},
      {"date": "2022-05-03", "series": "5-year OIS", "rate": 2.84},
      {"date": "2022-05-05", "series": "5-year OIS", "rate": 2.88},
      {"date": "2022-05-07", "series": "5-year OIS", "rate": 2.76},
      {"date": "2022-05-09", "series": "5-year OIS", "rate": 2.65},
      {"date": "2022-05-12", "series": "5-year OIS", "rate": 2.63},
      {"date": "2022-05-15", "series": "5-year OIS", "rate": 2.68},
      {"date": "2022-05-17", "series": "5-year OIS", "rate": 2.62},
      {"date": "2022-05-19", "series": "5-year OIS", "rate": 2.60},
      {"date": "2022-05-22", "series": "5-year OIS", "rate": 2.62},
      {"date": "2022-05-25", "series": "5-year OIS", "rate": 2.57},
      {"date": "2022-05-27", "series": "5-year OIS", "rate": 2.50},
      {"date": "2022-05-29", "series": "5-year OIS", "rate": 2.55},
      {"date": "2022-05-31", "series": "5-year OIS", "rate": 2.68},
      {"date": "2022-06-03", "series": "5-year OIS", "rate": 2.75},
      {"date": "2022-06-05", "series": "5-year OIS", "rate": 2.78},
      {"date": "2022-06-08", "series": "5-year OIS", "rate": 2.81},
      {"date": "2022-06-10", "series": "5-year OIS", "rate": 2.97},
      {"date": "2022-06-12", "series": "5-year OIS", "rate": 3.30},
      {"date": "2022-06-14", "series": "5-year OIS", "rate": 3.41},
      {"date": "2022-06-16", "series": "5-year OIS", "rate": 3.14},
      {"date": "2022-06-17", "series": "5-year OIS", "rate": 3.07},
      {"date": "2022-06-19", "series": "5-year OIS", "rate": 3.15},
      {"date": "2022-06-21", "series": "5-year OIS", "rate": 3.14},
      {"date": "2022-06-23", "series": "5-year OIS", "rate": 2.97},
      {"date": "2022-06-25", "series": "5-year OIS", "rate": 3.06},
      {"date": "2022-06-27", "series": "5-year OIS", "rate": 3.02},
      {"date": "2022-06-29", "series": "5-year OIS", "rate": 2.94},
      {"date": "2022-06-30", "series": "5-year OIS", "rate": 2.92}
    ],
    "event": [
      {"date": "2020-08-01", "label": "FAIT announced", "low": -0.44, "high": 3.98, "labelRate": 3.72}
    ]
  },
  "resolve": {"axis": {"x": "independent"}},
  "layer": [
    {
      "data": {"name": "ois"},
      "transform": [{"filter": "datum.series === '2-year OIS'"}],
      "mark": {"type": "line", "strokeJoin": "round", "strokeCap": "butt"},
      "encoding": {
        "x": {
          "field": "date",
          "type": "temporal",
          "scale": {"type": "utc", "domain": ["2019-07-01", "2022-06-30T23:00:00Z"]},
          "axis": {
            "orient": "bottom",
            "labelExpr": "utcFormat(datum.value, '%b-%y')",
            "tickCount": {"interval": "month", "step": 1},
            "domain": false,
            "ticks": false,
            "grid": false,
            "labelAngle": 45,
            "labelAlign": "left",
            "labelBaseline": "middle",
            "labelPadding": 14,
            "labelFontSize": 16.5,
            "labelColor": "#595959",
            "labelOverlap": false,
            "labelFlush": false,
            "labelBound": false,
            "title": [
              "Note:\u00a0 Overnight index swap (OIS) rates reflect componded returns from the federal funds rate over the horizon listed.",
              "Source:\u00a0 Bloomberg."
            ],
            "titleAnchor": "start",
            "titleAlign": "left",
            "titleBaseline": "alphabetic",
            "titleX": -33,
            "titleY": 139,
            "titleFontSize": 15,
            "titleFontWeight": "normal",
            "titleColor": "#737373",
            "titleLineHeight": 23
          }
        },
        "y": {
          "field": "rate",
          "type": "quantitative",
          "scale": {"domain": [-0.5, 4], "nice": false, "zero": false},
          "axis": {
            "values": [-0.5, 0, 0.5, 1, 1.5, 2, 2.5, 3, 3.5, 4],
            "labelExpr": "replace(format(datum.value, '.1f'), '\u2212', '-')",
            "domain": false,
            "ticks": false,
            "grid": true,
            "gridColor": "#d9d9d9",
            "gridWidth": 1.3,
            "labelPadding": 16,
            "labelFontSize": 15,
            "labelColor": "#595959",
            "title": null
          }
        },
        "color": {
          "field": "series",
          "type": "nominal",
          "scale": {"domain": ["2-year OIS", "5-year OIS"], "range": ["#000000", "#808080"]}
        },
        "strokeWidth": {
          "field": "series",
          "type": "nominal",
          "scale": {"domain": ["2-year OIS", "5-year OIS"], "range": [3.6, 2.6]}
        }
      }
    },
    {
      "data": {"name": "ois"},
      "transform": [{"filter": "datum.series === '5-year OIS'"}],
      "mark": {"type": "line", "strokeJoin": "round", "strokeCap": "butt"},
      "encoding": {
        "x": {
          "field": "date",
          "type": "temporal",
          "axis": {
            "orient": "bottom",
            "offset": -51.67,
            "tickCount": {"interval": "month", "step": 1},
            "labels": false,
            "domain": false,
            "ticks": true,
            "tickSize": 5,
            "tickColor": "#d9d9d9",
            "tickWidth": 1.3,
            "grid": false,
            "title": null
          }
        },
        "y": {"field": "rate", "type": "quantitative"},
        "color": {"field": "series", "type": "nominal"},
        "strokeWidth": {"field": "series", "type": "nominal"}
      }
    },
    {
      "data": {"name": "event"},
      "mark": {"type": "rule", "color": "#000000", "strokeWidth": 3},
      "encoding": {
        "x": {"field": "date", "type": "temporal", "axis": null},
        "y": {"field": "low", "type": "quantitative"},
        "y2": {"field": "high"}
      }
    },
    {
      "data": {"name": "event"},
      "mark": {"type": "text", "align": "left", "baseline": "middle", "dx": 8, "fontSize": 19, "fontStyle": "italic", "color": "#1a1a1a"},
      "encoding": {
        "x": {"field": "date", "type": "temporal", "axis": null},
        "y": {"field": "labelRate", "type": "quantitative"},
        "text": {"field": "label"}
      }
    }
  ]
}
